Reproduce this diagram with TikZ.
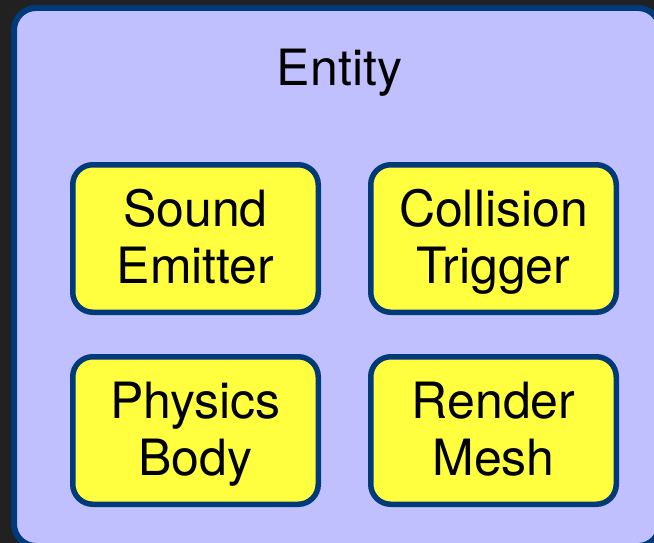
\documentclass[tikz,border=0pt]{standalone}
\usepackage{fontspec}
\setmainfont{TeX Gyre Heros}
\usetikzlibrary{positioning}
\definecolor{ink}{HTML}{003A78}
\definecolor{lilac}{HTML}{C0C0FF}
\definecolor{lemon}{HTML}{FFFF40}
\definecolor{slate}{HTML}{212121}

\begin{document}
\begin{tikzpicture}[x=1pt,y=-1pt,
 frame/.style={draw=ink,line width=6pt,rounded corners=22pt,fill=lilac,minimum width=646pt,minimum height=538pt,inner sep=0pt},
 part/.style={draw=ink,line width=5.5pt,rounded corners=20pt,fill=lemon,minimum width=245.5pt,minimum height=147.5pt,align=center,inner sep=0pt,font=\fontsize{50}{57}\selectfont,text height=92pt,text depth=3pt},
 title/.style={font=\fontsize{50}{57}\selectfont}]
\useasboundingbox (0,0) rectangle (654,543);
\fill[slate] (0,0) rectangle (654,543);
\clip (0,0) rectangle (654,543);
% container, runs off the right and bottom edges
\node[frame] (ent) at (337,277) {};
\node[title,anchor=base] (name) at (339.5,85) {Entity};
% the four components
\node[part] (snd) at (195.5,238.5) {Sound\\Emitter};
\node[part,right=47pt of snd] (col) {Collision\\Trigger};
\node[part,below=39pt of snd] (phy) {Physics\\Body};
\node[part,below=39pt of col] (ren) {Render\\Mesh};
\end{tikzpicture}
\end{document}
